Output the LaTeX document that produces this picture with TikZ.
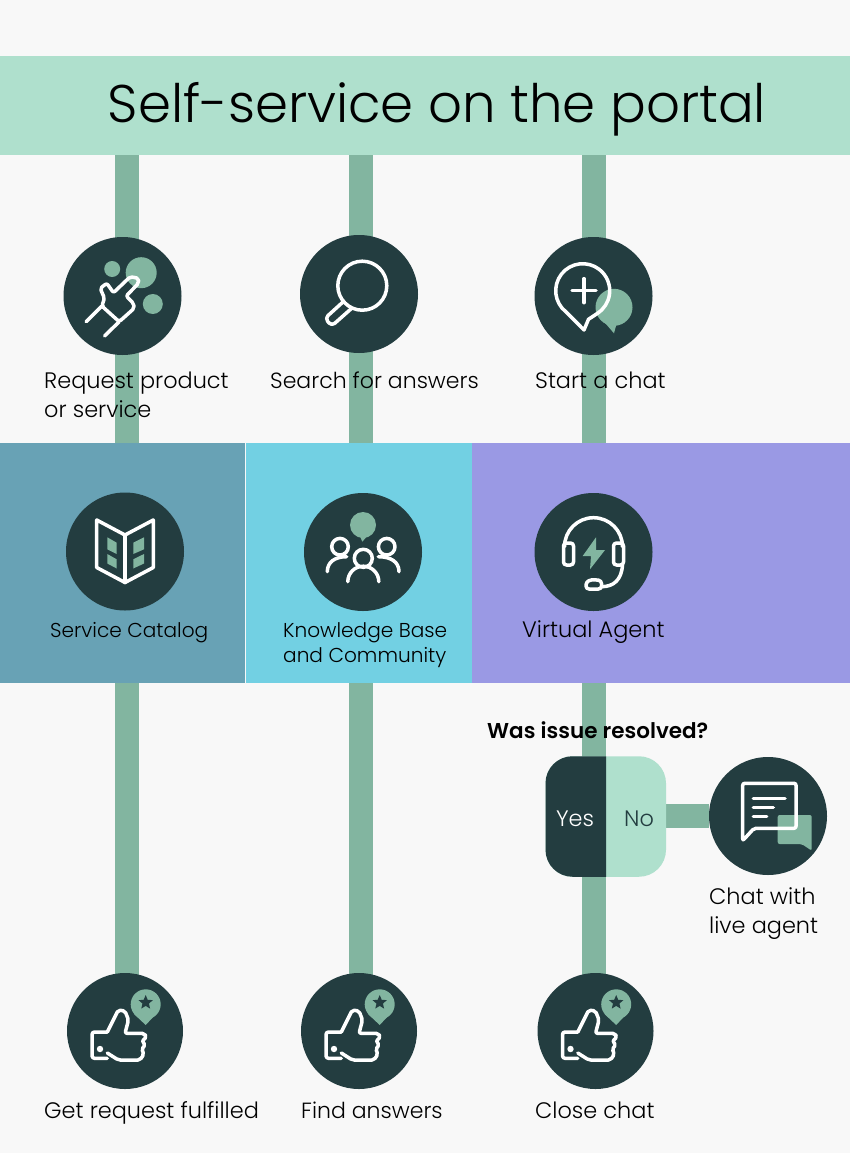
\documentclass[tikz,border=0pt]{standalone}
\usepackage{fontspec}
\setmainfont{Poppins}[UprightFont=* Light,BoldFont=* SemiBold]
\usetikzlibrary{backgrounds}
\definecolor{pagebg}{HTML}{F8F8F8}
\definecolor{mint}{HTML}{AFE0CD}
\definecolor{sage}{HTML}{82B5A0}
\definecolor{pine}{HTML}{233D40}
\definecolor{catalogbg}{HTML}{68A2B5}
\definecolor{knowbg}{HTML}{72D0E3}
\definecolor{agentbg}{HTML}{9A99E4}
\tikzset{
  disc/.style={circle, fill=pine, minimum size=118pt, inner sep=0pt},
  enddisc/.style={disc, minimum size=116pt},
  panel/.style={anchor=north west, minimum height=240pt, inner sep=0pt, outer sep=0pt},
  bar/.style={draw=sage, line width=24pt},
  tag/.style={anchor=west, inner sep=0pt, align=left, font=\fontsize{22.4}{29}\selectfont},
  narrowtag/.style={tag, font=\fontsize{22}{29}\selectfont},
  smalltag/.style={tag, font=\fontsize{20.1}{25}\selectfont},
  icon/.style={draw=white, line width=3.5pt, line join=round, line cap=round},
  thumbup/.pic={
    \fill[sage] (20.7,26.7) circle (15);
    \fill[sage] (9,17) -- (20.7,6) -- (31,17) -- cycle;
    \fill[pine, shift={(20.7,28.5)}] (90:7.5) -- (126:3.4) -- (162:7.5) -- (198:3.4) -- (234:7.5) -- (270:3.4) -- (306:7.5) -- (342:3.4) -- (18:7.5) -- (54:3.4) -- cycle;
    \draw[icon, rounded corners=2.5pt] (-17.7,-1) -- (-33,-1) -- (-33,-27.3) -- (-17.7,-27.3);
    \draw[icon, rounded corners=2pt] (-17.7,-1) -- (-6.7,21) -- (0,20) -- (3.5,11) -- (0,-2.3) -- (19,-2.3) -- (21.7,-6) -- (17,-10) -- (20.5,-14) -- (16.5,-18) -- (19,-23) -- (15,-29) -- (-6.7,-29) -- (-17.7,-22);
    \fill[white] (-25,-18) circle (3.2);
  }
}
\begin{document}
\begin{tikzpicture}[x=1pt, y=1pt]
  \useasboundingbox (0,0) rectangle (850,-1153);

  \node [minimum width=850pt, minimum height=99pt, fill=mint, inner sep=0pt] (title) at (425,-105.5) {};
  \node [inner sep=0pt, font=\fontsize{53}{60}\selectfont] (titletext) at (437,-109) {Self-service on the portal};

  \node [panel, fill=catalogbg, minimum width=245pt] (catalogbox) at (0,-443) {};
  \node [panel, fill=knowbg, minimum width=225.5pt] (knowbox) at (246,-443) {};
  \node [panel, fill=agentbg, minimum width=378pt] (agentbox) at (472,-443) {};

  \node [disc] (request) at (122.5,-296) {};
  \node [disc] (search) at (359,-294) {};
  \node [disc] (startchat) at (593.5,-296) {};
  \node [disc] (catalog) at (125,-551.5) {};
  \node [disc] (know) at (363,-552) {};
  \node [disc] (agent) at (593.5,-552) {};
  \node [enddisc] (fulfilled) at (125,-1031) {};
  \node [enddisc] (answers) at (359,-1031) {};
  \node [enddisc] (closechat) at (595.5,-1031) {};
  \node [disc] (live) at (768,-816) {};

  \node [minimum size=120.5pt, inner sep=0pt, fill=mint, rounded corners=27pt] (decision) at (605.75,-816.5) {};
  \fill [pine, rounded corners=27pt] (606,-756.25) -- (545.5,-756.25) -- (545.5,-876.75) [sharp corners] -- (606,-876.75) -- cycle;
  \node [inner sep=0pt, text=white, font=\fontsize{22.4}{29}\selectfont] (yes) at (575,-819) {Yes};
  \node [inner sep=0pt, text=pine, font=\fontsize{22.4}{29}\selectfont] (no) at (639,-819) {No};

  \coordinate (a) at (127,0);
  \coordinate (b) at (361,0);
  \coordinate (c) at (594,0);
  \begin{scope}[on background layer]
    \fill [pagebg] (0,0) rectangle (850,-1153);
    \path [bar] (a |- title) -- (a |- request) -- (a |- catalog) -- (a |- fulfilled);
    \path [bar] (b |- title) -- (b |- search) -- (b |- know) -- (b |- answers);
    \path [bar] (c |- title) -- (c |- startchat) -- (c |- agent) -- (c |- decision) -- (c |- closechat);
    \path [bar] (decision.center |- live) -- (live);
  \end{scope}

  % request
  \begin{scope}[shift={(request.center)}]
    \fill [sage] (18.7,23.3) circle (15.5) (-10.3,27) circle (8) (30.3,-8) circle (10);
    \draw [icon] (-36.3,-25.7) -- (-20.7,-10) (-18,-40) -- (-3.3,-25.7);
    \draw [icon, rounded corners=2pt] (-20.7,-10) -- (-18,-2.3) -- (-22.3,7.7) -- (-15.7,12.7) -- (-9,3.3) -- (7.7,19.3) -- (16,17.7) -- (16,12.7) -- (3.7,0) -- (11,-7.3) -- (11.7,-12.3) -- (-3.3,-25.7) -- cycle;
  \end{scope}

  % search
  \begin{scope}[shift={(search.center)}]
    \draw [icon] (3.3,8.3) circle (24.5);
    \draw [icon, rounded corners=4pt] (-15.7,-7.7) -- (-34,-24.3) -- (-27.3,-32) -- (-7.3,-14.3);
  \end{scope}

  % start chat
  \begin{scope}[shift={(startchat.center)}]
    \fill [sage] (20.5,-11.3) circle (18.5);
    \fill [sage] (9,-24) -- (20.5,-37.3) -- (23,-28) -- cycle;
    \draw [icon] (-27.4,-16) arc [start angle=232, end angle=-57, radius=27] -- (-5,-23.3) -- (-9.5,-34) -- cycle;
    \draw [icon] (-21.5,5.3) -- (2.5,5.3) (-9.5,-6.7) -- (-9.5,17.3);
  \end{scope}

  % catalog
  \begin{scope}[shift={(catalog.center)}]
    \fill [sage] (-17.7,14.2) -- (-8.3,8.8) -- (-8.3,-2.5) -- (-17.7,2.2) -- cycle;
    \fill [sage] (-17.7,-2.5) -- (-8.3,-7.8) -- (-8.3,-17) -- (-17.7,-12) -- cycle;
    \fill [sage] (8.3,8.8) -- (19,14.2) -- (19,2.2) -- (8.3,-2.5) -- cycle;
    \fill [sage] (8.3,-7.8) -- (19,-2.5) -- (19,-12) -- (8.3,-17) -- cycle;
    \draw [icon] (-28.3,31.5) -- (0,16.5) -- (28.3,31.5) -- (28.3,-16) -- (0,-31) -- (-28.3,-16) -- cycle;
    \draw [icon] (0,16.5) -- (0,-31);
  \end{scope}

  % community
  \begin{scope}[shift={(know.center)}]
    \fill [sage] (0,27) circle (13);
    \fill [sage] (-4,18) -- (-0.7,10.3) -- (6,18) -- cycle;
    \draw [icon] (0.3,-6.3) circle (9);
    \draw [icon] (-15.2,-29.7) arc [start angle=180, end angle=0, radius=15.5];
    \draw [icon] (-23,5.3) circle (8.3);
    \draw [icon] (-35.7,-19.7) .. controls (-35.7,-10) and (-28,-4.7) .. (-16.3,-4.7);
    \draw [icon] (23.7,5.3) circle (8.3);
    \draw [icon] (36,-19.7) .. controls (36,-10) and (28,-4.7) .. (15.3,-4.7);
  \end{scope}

  % headset
  \begin{scope}[shift={(agent.center)}]
    \fill [sage] (2.5,14.7) -- (-10.8,-4) -- (-2.5,-4) -- (-3.5,-17.3) -- (11.5,2) -- (2.5,2) -- cycle;
    \draw [icon] (-29,5.3) arc [start angle=180, end angle=0, radius=29];
    \draw [icon, rounded corners=3pt] (-20,9) -- (-30,9) -- (-30,-13) -- (-20,-13) -- cycle;
    \draw [icon, rounded corners=3pt] (20,9) -- (30,9) -- (30,-13) -- (20,-13) -- cycle;
    \draw [icon] (29,-13) .. controls (28,-28) and (20,-34.7) .. (8,-34.7);
    \draw [icon, rounded corners=3pt] (-7.5,-37) -- (8,-37) -- (8,-28.5) -- (-2,-27.5) -- (-7.5,-30) -- cycle;
  \end{scope}

  % live agent
  \begin{scope}[shift={(live.center)}]
    \fill [sage, rounded corners=2pt] (9.7,1) -- (43.7,1) -- (43.7,-34.7) -- (33.7,-28) -- (9.7,-28) -- cycle;
    \draw [icon, rounded corners=2pt] (-25.3,32.7) -- (28,32.7) -- (28,-12.3) -- (-14,-12.3) -- (-25.3,-24.7) -- cycle;
    \draw [icon] (-14.7,17.7) -- (17,17.7) (-14.7,8.3) -- (5.3,8.3) (-14.7,-0.7) -- (-1.3,-0.7);
  \end{scope}

  \pic at (fulfilled.center) {thumbup};
  \pic at (answers.center) {thumbup};
  \pic at (closechat.center) {thumbup};

  \node [tag] (requesttext) at (44,-394.5) {Request product\\or service};
  \node [narrowtag] (searchtext) at (270,-380) {Search for answers};
  \node [tag] (startchattext) at (535,-380) {Start a chat};
  \node [smalltag] (catalogtext) at (50,-633) {Service Catalog};
  \node [smalltag] (knowtext) at (283,-645) {Knowledge Base\\and Community};
  \node [tag] (agenttext) at (522,-632) {Virtual Agent};
  \node [tag, font=\fontsize{21.5}{29}\selectfont\bfseries] (question) at (487,-730) {Was issue resolved?};
  \node [tag] (livetext) at (709,-914) {Chat with\\live agent};
  \node [tag] (fulfilledtext) at (44,-1113) {Get request fulfilled};
  \node [narrowtag] (answerstext) at (301,-1110) {Find answers};
  \node [tag] (closechattext) at (535,-1110) {Close chat};
\end{tikzpicture}
\end{document}
